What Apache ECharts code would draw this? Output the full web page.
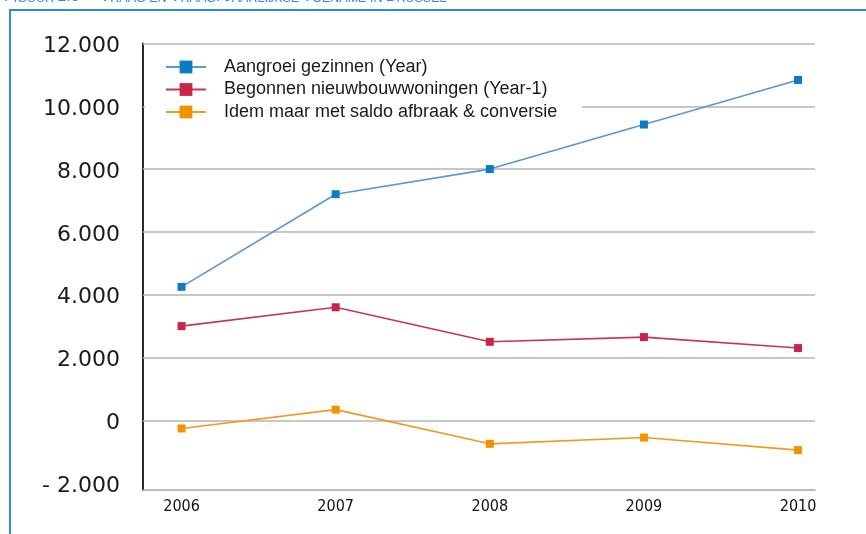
<!DOCTYPE html>
<html>
<head>
<meta charset="utf-8">
<script src="https://cdn.jsdelivr.net/npm/echarts@6/dist/echarts.min.js"></script>
<style>
  html, body { margin: 0; padding: 0; background: #fff; }
  #chart { width: 866px; height: 534px; }
</style>
</head>
<body>
<div id="chart"></div>
<script>
// Years on the horizontal axis
var years = [2006, 2007, 2008, 2009, 2010];

// Series values
var aangroeiGezinnen = [4250, 7200, 8000, 9420, 10840];
var begonnenWoningen = [3000, 3600, 2500, 2650, 2300];
var saldoAfbraak = [-260, 340, -750, -550, -950];

// Series names
var seriesNames = [
  'Aangroei gezinnen (Year)',
  'Begonnen nieuwbouwwoningen (Year-1)',
  'Idem maar met saldo afbraak & conversie'
];

// Vertical axis tick values
var yTicks = [-2000, 0, 2000, 4000, 6000, 8000, 10000, 12000];
var gridValues = [0, 2000, 4000, 6000, 8000, 10000, 12000];

function pairs(vals) {
  return years.map(function (y, i) { return [y, vals[i]]; });
}

function fmtThousands(v) {
  var neg = v < 0;
  var s = String(Math.abs(v)).replace(/\B(?=(\d{3})+(?!\d))/g, '.');
  return '{v|' + (neg ? '- ' + s : s) + '}';
}

var chart = echarts.init(document.getElementById('chart'), null, { renderer: 'canvas' });

function lineSeries(name, vals, lineColor, markColor) {
  return {
    name: name,
    type: 'line',
    data: pairs(vals),
    symbol: 'rect',
    symbolSize: 8,
    showSymbol: true,
    z: 3,
    lineStyle: { color: lineColor, width: 1.6 },
    itemStyle: { color: markColor },
    emphasis: { disabled: true },
    animation: false
  };
}

var option = {
  animation: false,
  grid: { left: 143, right: 51, top: 43.5, bottom: 44, containLabel: false },
  xAxis: {
    type: 'value',
    min: 2005.75,
    max: 2010.11,
    axisLine: { show: true, onZero: false, lineStyle: { color: '#a8a8a8', width: 1.5 } },
    axisTick: { show: false },
    splitLine: { show: false },
    axisLabel: {
      customValues: years,
      formatter: function (v) { return String(v); },
      margin: 9,
      color: '#111',
      fontFamily: 'DejaVu Sans Condensed, Liberation Sans Narrow, sans-serif',
      fontSize: 16
    }
  },
  yAxis: {
    type: 'value',
    min: -2220,
    max: 12000,
    axisLine: { show: true, lineStyle: { color: '#2a2a2a', width: 2 } },
    axisTick: { show: false },
    splitLine: { show: false },
    axisLabel: {
      customValues: yTicks,
      formatter: fmtThousands,
      margin: 23,
      rich: {
        v: {
          color: '#1a1a1a',
          fontFamily: 'DejaVu Sans, sans-serif',
          fontSize: 22,
          padding: [6, 0, 0, 0]
        }
      }
    }
  },
  legend: {
    data: seriesNames,
    orient: 'vertical',
    left: 145,
    top: 48,
    padding: [10, 25, 10, 20],
    backgroundColor: '#ffffff',
    itemWidth: 40,
    itemHeight: 16,
    itemGap: 4.5,
    selectedMode: false,
    textStyle: {
      color: '#1a1a1a',
      fontFamily: 'Liberation Sans, sans-serif',
      fontSize: 18,
      padding: [0, 0, 0, 13]
    },
    z: 6
  },
  series: [
    {
      // horizontal gridlines
      name: 'grid',
      type: 'line',
      data: [],
      z: 1,
      silent: true,
      markLine: {
        z: 1,
        silent: true,
        symbol: 'none',
        label: { show: false },
        lineStyle: { color: '#b4b4b4', width: 1.5, type: 'solid' },
        data: gridValues.map(function (v) { return { yAxis: v }; }),
        animation: false
      }
    },
    lineSeries(seriesNames[0], aangroeiGezinnen, '#5a98d2', '#0a7cc4'),
    lineSeries(seriesNames[1], begonnenWoningen, '#c93453', '#c8254b'),
    lineSeries(seriesNames[2], saldoAfbraak, '#f29a1c', '#f39200')
  ],
  graphic: [
    {
      type: 'polyline',
      shape: { points: [[10, 534], [10, 10], [866, 10]] },
      style: { stroke: '#2b8fd0', lineWidth: 2, fill: null },
      z: 10
    },
    {
      type: 'text',
      left: 4,
      top: -11,
      style: {
        text: '{b|F}{s|IGUUR} {b|2.5}      {b|V}{s|RAAG EN} {b|V}{s|RAAG}{b|:} {b|J}{s|AARLIJKSE} {b|T}{s|OENAME IN} {b|B}{s|RUSSEL}',
        rich: {
          b: { fontSize: 16, fill: '#2b8fd0', fontFamily: 'Liberation Sans, sans-serif', verticalAlign: 'bottom' },
          s: { fontSize: 12.5, fill: '#2b8fd0', fontFamily: 'Liberation Sans, sans-serif', verticalAlign: 'bottom' }
        }
      },
      z: 10
    }
  ]
};

chart.setOption(option);
</script>
</body>
</html>
